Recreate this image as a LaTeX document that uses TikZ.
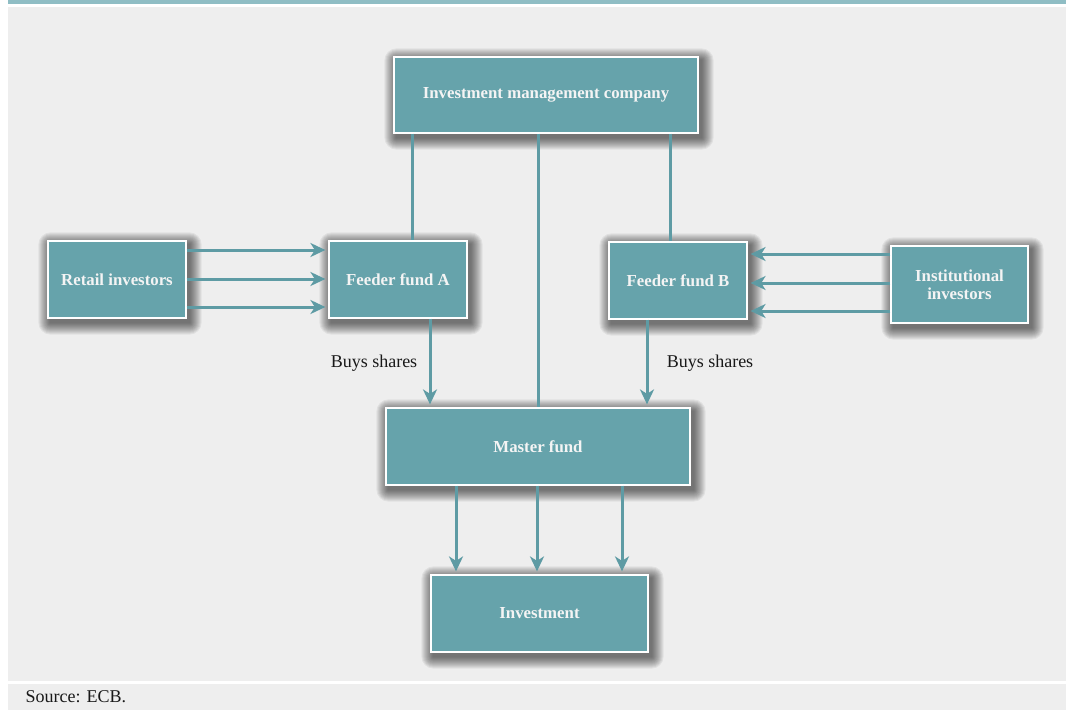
\documentclass[tikz,border=0pt]{standalone}
\usepackage{fontspec}
\setmainfont{Liberation Serif}
\usetikzlibrary{arrows.meta,calc,backgrounds}
\definecolor{boxfill}{HTML}{66A3AB}
\definecolor{linkcol}{HTML}{5E9BA4}
\definecolor{bandcol}{HTML}{8FBDC4}
\definecolor{panelgray}{HTML}{EEEEEE}
\definecolor{boxtext}{HTML}{F4F4F4}
\tikzset{
  fundbox/.style={draw=white, line width=1.2pt, fill=boxfill, inner sep=2pt,
    text=boxtext, font=\fontsize{16.8}{18}\selectfont\bfseries, align=center},
  halo/.style={fill=black, opacity=0.055},
  link/.style={draw=linkcol, line width=3pt},
  flow/.style={link, -{Stealth[length=15pt,width=14pt,inset=4.5pt]}, shorten >=3pt},
  note/.style={font=\fontsize{18}{19}\selectfont, text=black!90}
}
\begin{document}
\begin{tikzpicture}[x=1pt,y=-1pt]
  \useasboundingbox (0,0) rectangle (1066,710);

  % boxes
  \node[fundbox, minimum width=304pt, minimum height=76pt] (imc) at (546,95) {Investment management company};
  \node[fundbox, minimum width=138pt, minimum height=77pt] (ri) at (117,279.5) {Retail investors};
  \node[fundbox, minimum width=138pt, minimum height=77pt] (fa) at (398,279.5) {Feeder fund A};
  \node[fundbox, minimum width=138pt, minimum height=77pt] (fb) at (678,280.5) {Feeder fund B};
  \node[fundbox, minimum width=137pt, minimum height=77pt] (ii) at (959.5,284.5) {Institutional\\investors};
  \node[fundbox, minimum width=304pt, minimum height=77pt] (mf) at (538,446.5) {Master fund};
  \node[fundbox, minimum width=217pt, minimum height=77pt] (inv) at (539.5,613.5) {Investment};

  \begin{scope}[on background layer]
    % page and panels
    \fill[white] (0,0) rectangle (1066,710);
    \fill[bandcol] (8,0) rectangle (1066,4);
    \fill[panelgray] (8,7) rectangle (1066,681);
    \fill[panelgray] (8,684) rectangle (1066,710);
    % soft drop shadows behind the boxes
    \foreach \b in {imc,ri,fa,fb,ii,mf,inv}
      \foreach \r in {1,...,12}
        \fill[halo, rounded corners=\r pt]
          ($(\b.north west)+({3-\r},{4-\r})$) rectangle ($(\b.south east)+({3+\r},{4+\r})$);
  \end{scope}

  \node[note, anchor=west] (src) at (22,697) {Source: ECB.};

  % management links
  \draw[link] (imc.south -| 412,0) -- (fa.north -| 412,0);
  \draw[link] (imc.south -| 538,0) -- (mf.north -| 538,0);
  \draw[link] (imc.south -| 670,0) -- (fb.north -| 670,0);

  % investors into feeder funds
  \foreach \yy in {250,279,307}
    \draw[flow] (ri.east |- 0,\yy) -- (fa.west |- 0,\yy);
  \foreach \yy in {254,283,311}
    \draw[flow] (ii.west |- 0,\yy) -- (fb.east |- 0,\yy);

  % feeder funds buy shares of the master fund
  \draw[flow] (fa.south -| 430,0) -- (mf.north -| 430,0);
  \draw[flow] (fb.south -| 647,0) -- (mf.north -| 647,0);
  \node[note] (lbA) at (374,363) {Buys shares};
  \node[note] (lbB) at (710,363) {Buys shares};

  % master fund into investment
  \foreach \xx in {456,537,622}
    \draw[flow] (mf.south -| \xx,0) -- (inv.north -| \xx,0);
\end{tikzpicture}
\end{document}
